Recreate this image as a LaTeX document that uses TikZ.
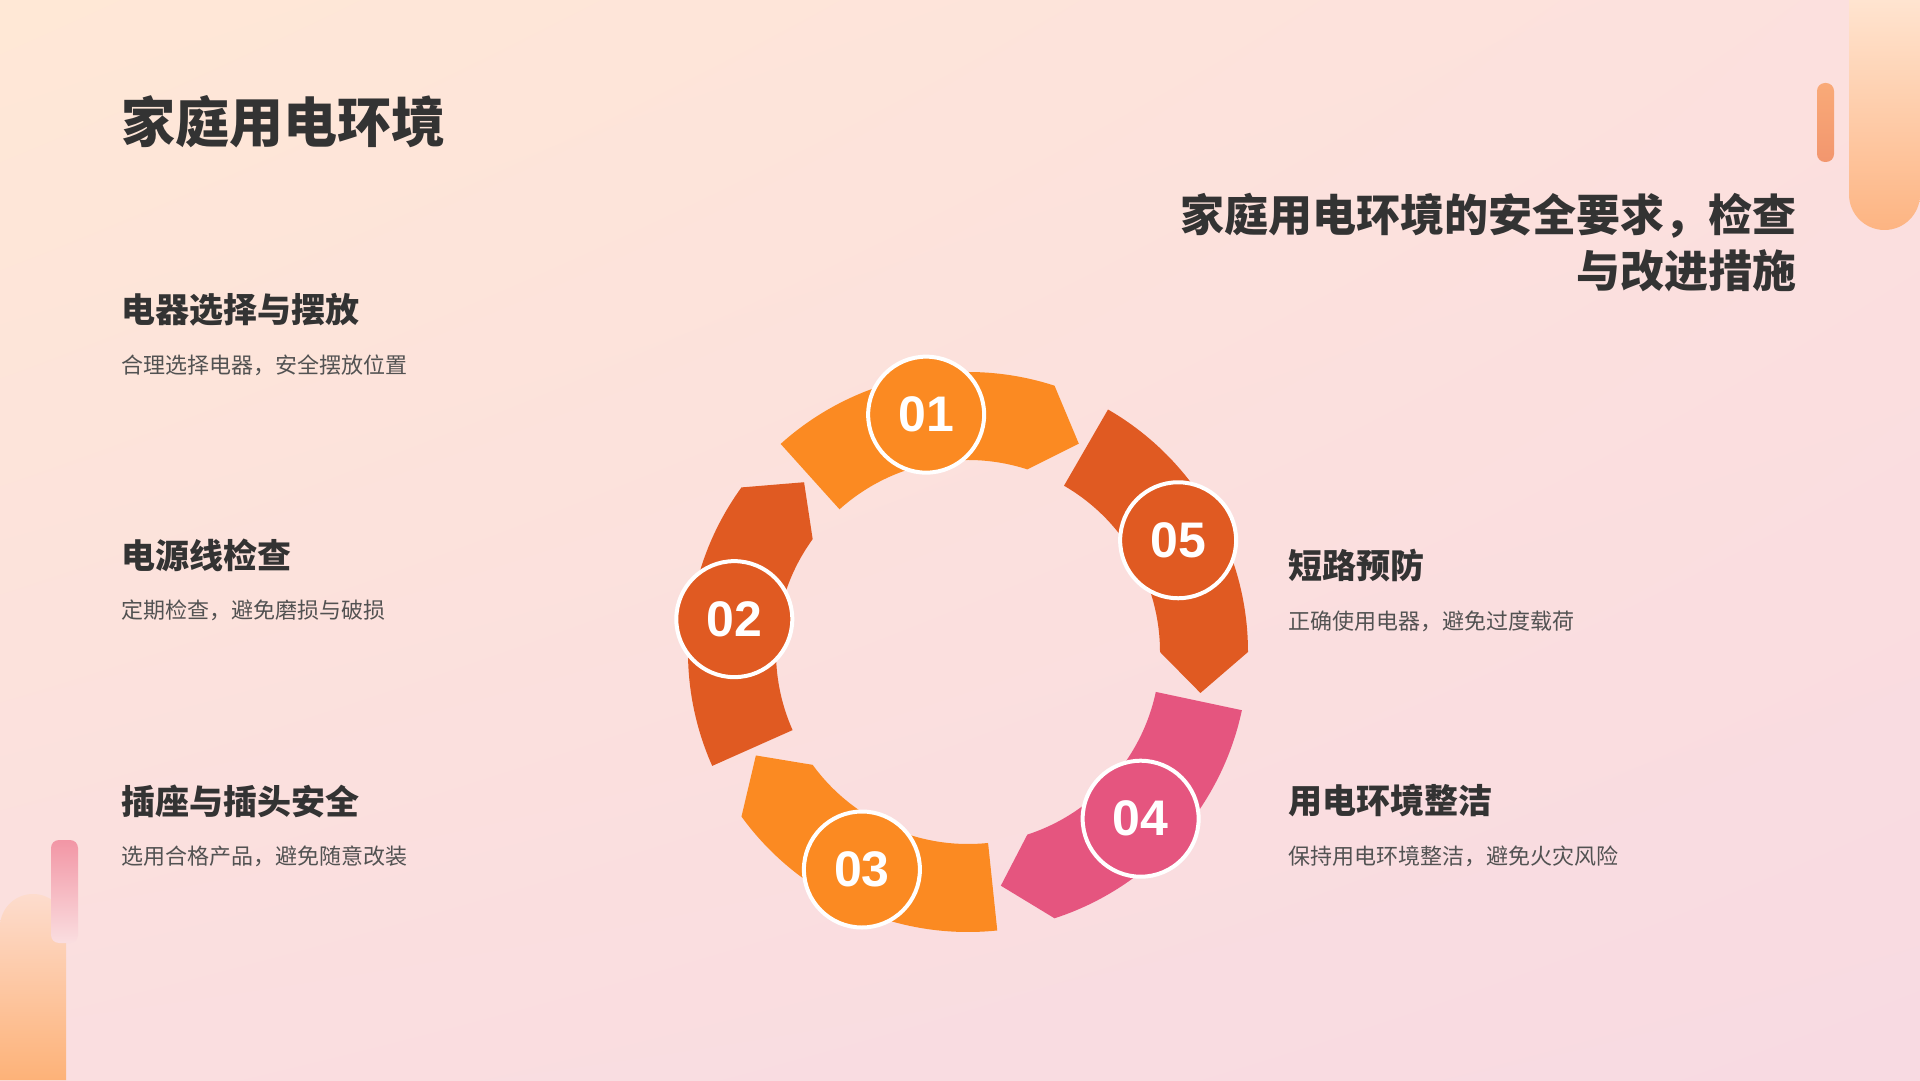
\documentclass[tikz,border=0pt]{standalone}
\usepackage{fontspec}
\usetikzlibrary{shadings}
\newfontfamily\cjk{Noto Sans CJK SC}
\newfontfamily\numf{Liberation Sans}
\begin{document}
\begin{tikzpicture}[x=1pt,y=1pt,
  numc/.style={circle,minimum size=116pt,draw=white,line width=4pt,text=white,font=\numf\bfseries\fontsize{50}{50}\selectfont,inner sep=0pt},
  ttl/.style={anchor=west,text=black!80,font=\cjk\bfseries\fontsize{54}{60}\selectfont},
  head/.style={anchor=west,text=black!80,font=\cjk\bfseries\fontsize{34}{40}\selectfont},
  desc/.style={anchor=west,text=black!68,font=\cjk\fontsize{22}{26}\selectfont}]
\definecolor{cor}{HTML}{FB8A22}
\definecolor{cdk}{HTML}{E05A22}
\definecolor{cpk}{HTML}{E5557F}
\definecolor{bgul}{RGB}{255,232,214}
\definecolor{bgur}{RGB}{252,224,222}
\definecolor{bgll}{RGB}{250,222,224}
\definecolor{bglr}{RGB}{248,218,226}
\definecolor{p1t}{RGB}{255,228,208}
\definecolor{p1b}{RGB}{253,180,130}
\definecolor{b1t}{RGB}{249,170,120}
\definecolor{b1b}{RGB}{242,150,110}
\definecolor{p2t}{RGB}{253,220,205}
\definecolor{p2b}{RGB}{253,178,120}
\definecolor{b2t}{RGB}{242,150,165}
\useasboundingbox (0,0) rectangle (1920,1080);
\shade[upper left=bgul,upper right=bgur,lower left=bgll,lower right=bglr] (0,0) rectangle (1920,1080);
% decorations
\shade[top color=p1t,bottom color=p1b]
  (1849,1080) -- (1849,885.5) arc[start angle=180,end angle=360,radius=35.5] -- (1920,1080) -- cycle;
\shade[top color=b1t,bottom color=b1b,rounded corners=8pt]
  (1817,918) rectangle (1834,997);
\shade[top color=p2t,bottom color=p2b]
  (0,0) -- (0,153) arc[start angle=180,end angle=0,radius=33] -- (66,0) -- cycle;
\shade[top color=b2t,bottom color=bgll,rounded corners=8pt]
  (51,137) rectangle (78,240);
% texts
\node[ttl] (title) at (118,958) {家庭用电环境};
\node[anchor=east,align=right,text=black!80,font=\cjk\bfseries\fontsize{44}{56}\selectfont] (sub) at (1800,837) {家庭用电环境的安全要求，检查\\与改进措施};
\node[head] (h1) at (118,770) {电器选择与摆放};
\node[desc] (d1) at (118,715) {合理选择电器，安全摆放位置};
\node[head] (h2) at (118,525) {电源线检查};
\node[desc] (d2) at (118,470) {定期检查，避免磨损与破损};
\node[head] (h3) at (118,279) {插座与插头安全};
\node[desc] (d3) at (118,224) {选用合格产品，避免随意改装};
\node[head] (h5) at (1285,514) {短路预防};
\node[desc] (d5) at (1285,459) {正确使用电器，避免过度载荷};
\node[head] (h4) at (1285,279) {用电环境整洁};
\node[desc] (d4) at (1285,224) {保持用电环境整洁，避免火灾风险};
% ring
\begin{scope}[shift={(968,428)}]
\foreach \a/\c in {132/cor,60/cdk,-12/cpk,-84/cor,-156/cdk}{
  \fill[\c] (\a:280) arc[start angle=\a,end angle=\a-60,radius=280] -- (\a-70:236) -- (\a-60:192)
     arc[start angle=\a-60,end angle=\a,radius=192] -- cycle;
}
\node[numc,fill=cor] (n1) at (100:241) {01};
\node[numc,fill=cdk] (n5) at (28:238) {05};
\node[numc,fill=cpk] (n4) at (-44:240) {04};
\node[numc,fill=cor] (n3) at (-116:242) {03};
\node[numc,fill=cdk] (n2) at (172:236) {02};
\end{scope}
\end{tikzpicture}
\end{document}
